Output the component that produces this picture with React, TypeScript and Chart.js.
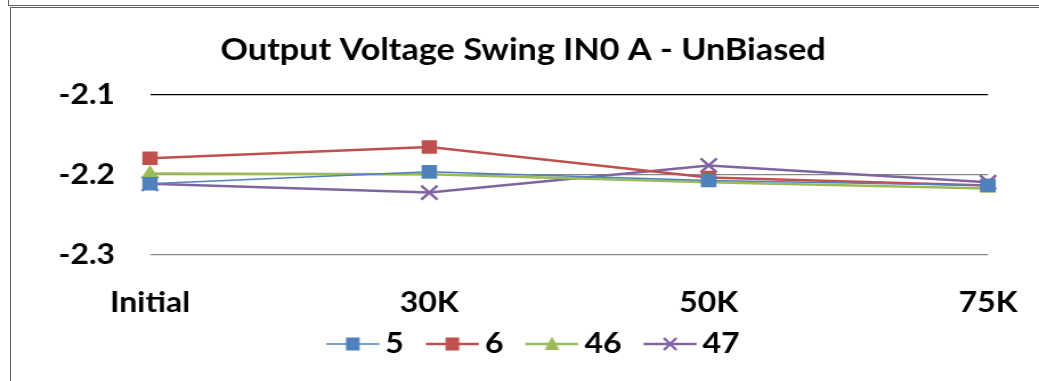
import React, { useEffect, useRef } from "react";
import { Chart, registerables } from "chart.js";

Chart.register(...registerables);

const categories = ["Initial", "30K", "50K", "75K"];
const seriesNames = ["5", "6", "46", "47"];
const s5 = [-2.211, -2.196, -2.207, -2.213];
const s6 = [-2.179, -2.165, -2.203, -2.213];
const s46 = [-2.198, -2.199, -2.209, -2.217];
const s47 = [-2.211, -2.222, -2.188, -2.209];
const yTicks = [-2.3, -2.2, -2.1];
const titleText = "Output Voltage Swing IN0 A - UnBiased";

const colors = ["#4F81BD", "#C0504D", "#9BBB59", "#8064A2"];
const lineWidths = [1.5, 2.5, 2.5, 2.5];
const pointStyles = ["rect", "rect", "triangle", "crossRot"];
const pointRadii = [9.5, 9.5, 8.5, 10];

const FONT = "Lato, 'Open Sans', sans-serif";
// canvas drawn narrower and stretched horizontally (reference is stretched)
const OUT_W = 1039;
const OUT_H = 381;
const IN_W = 911;

function makeLegendImage(color: string, lw: number, style: string): HTMLCanvasElement {
  const c = document.createElement("canvas");
  c.width = 73;
  c.height = 20;
  const ctx = c.getContext("2d")!;
  ctx.strokeStyle = color;
  ctx.lineWidth = lw;
  ctx.beginPath();
  ctx.moveTo(26.25, 10);
  ctx.lineTo(72.75, 10);
  ctx.stroke();
  const cx = 49.5;
  const cy = 10;
  ctx.fillStyle = color;
  if (style === "rect") {
    ctx.fillRect(cx - 6, cy - 6.5, 12, 13);
  } else if (style === "triangle") {
    ctx.beginPath();
    ctx.moveTo(cx, cy - 7.5);
    ctx.lineTo(cx + 6.5, cy + 6);
    ctx.lineTo(cx - 6.5, cy + 6);
    ctx.closePath();
    ctx.fill();
  } else {
    ctx.lineWidth = 2.5;
    ctx.beginPath();
    ctx.moveTo(cx - 5.5, cy - 6);
    ctx.lineTo(cx + 5.5, cy + 6);
    ctx.moveTo(cx + 5.5, cy - 6);
    ctx.lineTo(cx - 5.5, cy + 6);
    ctx.stroke();
  }
  return c;
}

export default function App() {
  const ref = useRef<HTMLCanvasElement | null>(null);

  useEffect(() => {
    if (!ref.current) return;
    const all = [s5, s6, s46, s47];
    const legendImgs = seriesNames.map((_, i) => makeLegendImage(colors[i], lineWidths[i], pointStyles[i]));
    const chart = new Chart(ref.current, {
      type: "line",
      data: {
        labels: categories,
        datasets: seriesNames.map((name, i) => ({
          label: name,
          data: all[i],
          borderColor: colors[i],
          backgroundColor: colors[i],
          borderWidth: lineWidths[i],
          pointStyle: pointStyles[i] as any,
          pointRadius: pointRadii[i],
          pointBorderWidth: pointStyles[i] === "crossRot" ? 2.5 : 0,
          pointBorderColor: colors[i],
          pointBackgroundColor: colors[i],
          tension: 0,
          fill: false,
          yAxisID: "y",
        })),
      },
      options: {
        animation: false,
        responsive: false,
        devicePixelRatio: 1,
        layout: { padding: { left: 21, right: 14.7, top: 0, bottom: 13 } },
        plugins: {
          title: {
            display: true,
            text: titleText,
            color: "#000",
            font: { family: FONT, size: 30, weight: "bold" },
            padding: { top: 32, bottom: 27 },
          },
          legend: {
            position: "bottom",
            labels: {
              color: "#000",
              font: { family: FONT, size: 28, weight: "bold" },
              usePointStyle: true,
              pointStyleWidth: 55.1,
              padding: 2,
              generateLabels: (ch: any) =>
                ch.data.datasets.map((ds: any, i: number) => ({
                  text: ds.label,
                  pointStyle: legendImgs[i],
                  fillStyle: colors[i],
                  strokeStyle: colors[i],
                  lineWidth: 0,
                  hidden: false,
                  datasetIndex: i,
                  fontColor: "#000",
                })),
            },
          },
          tooltip: { enabled: false },
        },
        scales: {
          x: {
            type: "category",
            offset: false,
            grid: { display: false, drawTicks: true, tickLength: 29 },
            border: { display: false },
            ticks: {
              color: "#000",
              font: { family: FONT, size: 28, weight: "bold" },
              padding: 2,
              maxRotation: 0,
              autoSkip: false,
            },
            afterFit: (s: any) => {
              s.height = 73;
            },
          },
          y: {
            position: "left",
            min: -2.3,
            max: -2.1,
            afterBuildTicks: (s: any) => {
              s.ticks = yTicks.map((v) => ({ value: v }));
            },
            grid: {
              drawTicks: false,
              color: (c: any) => (c.tick && Math.abs(c.tick.value - -2.1) < 1e-6 ? "#000" : "#868686"),
              lineWidth: 1.3,
            },
            border: { display: false },
            ticks: {
              color: "#000",
              font: { family: FONT, size: 28, weight: "bold" },
              padding: 30.7,
              callback: (v: any) => Number(v).toFixed(1),
            },
            afterFit: (s: any) => {
              s.width = 110.5;
            },
          },
          spacer: {
            position: "right",
            display: true,
            grid: { display: false },
            border: { display: false },
            ticks: { display: false },
            afterFit: (s: any) => {
              s.width = 30;
            },
          },
        },
      },
    });
    return () => chart.destroy();
  }, []);

  return (
    <div style={{ position: "absolute", left: 0, top: 0, width: OUT_W, height: OUT_H, background: "#fff", overflow: "hidden" }}>
      <canvas ref={ref} width={IN_W} height={OUT_H} style={{ position: "absolute", left: 0, top: 0, width: OUT_W, height: OUT_H }} />
      <div style={{ position: "absolute", left: 8, top: -10, width: 1100, height: 15, borderLeft: "1px solid #606060", borderBottom: "1px solid #606060" }} />
      <div style={{ position: "absolute", left: 10, top: 7, width: 1100, height: 400, borderLeft: "1px solid #606060", borderTop: "1px solid #606060" }} />
    </div>
  );
}
